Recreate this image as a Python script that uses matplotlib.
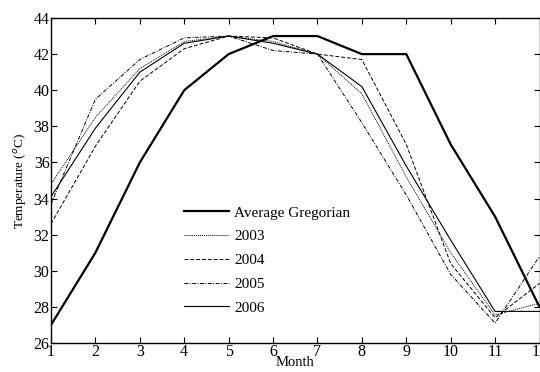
import matplotlib
matplotlib.use("Agg")
from matplotlib import pyplot as plt
import numpy as np

plt.rcParams["font.family"] = ["Liberation Serif", "DejaVu Serif"]
plt.rcParams["mathtext.fontset"] = "custom"
plt.rcParams["mathtext.rm"] = "Liberation Serif"

months = [1, 2, 3, 4, 5, 6, 7, 8, 9, 10, 11, 12]
avg_gregorian = [27, 31, 36, 40, 42, 43, 43, 42, 42, 37, 33, 28]
y2003 = [34.8, 38.5, 41.2, 42.7, 43, 42.7, 42, 39.8, 35.2, 31.0, 27.55, 28.2]
y2004 = [32.6, 36.9, 40.5, 42.3, 43, 42.9, 42, 41.7, 37.0, 30.4, 27.4, 29.3]
y2005 = [33.7, 39.5, 41.7, 42.9, 43, 42.2, 42, 38.2, 34.2, 29.8, 27.1, 30.8]
y2006 = [34.1, 37.9, 41.0, 42.6, 43, 42.6, 42, 40.2, 35.8, 31.7, 27.75, 27.75]

fig = plt.figure(figsize=(5.4, 3.72), dpi=100)
ax = fig.add_axes([51 / 540, 1 - 343 / 372, 488.5 / 540, 325 / 372])

ax.plot(months, avg_gregorian, color="black", lw=1.6, label="Average Gregorian")
ax.plot(months, y2003, color="black", lw=0.7, ls=(0, (1, 1)), label="2003")
ax.plot(months, y2004, color="black", lw=0.7, ls=(0, (4, 2)), label="2004")
ax.plot(months, y2005, color="black", lw=0.7, ls=(0, (4, 1.5, 1, 1.5)), label="2005")
ax.plot(months, y2006, color="black", lw=0.8, label="2006")

ax.set_xlim(1, 12)
ax.set_ylim(26, 44)
ax.set_xticks(months)
ax.set_yticks(np.arange(26, 45, 2))
ax.tick_params(direction="in", top=True, right=True, length=4, width=0.8,
               labelsize=11.5, pad=1)
for s in ax.spines.values():
    s.set_linewidth(1.0)

ax.set_xlabel("Month", fontsize=10.5, labelpad=-3)
ax.set_ylabel("Temperature ($^o$C)", fontsize=9.5, labelpad=3)

leg = ax.legend(loc="upper left", bbox_to_anchor=(184 / 540, 1 - 206 / 372),
                bbox_transform=fig.transFigure, frameon=False, fontsize=11,
                handlelength=2.95, handletextpad=0.35, labelspacing=0.66,
                borderaxespad=0, borderpad=0)

fig.savefig("out.png", dpi=100)
